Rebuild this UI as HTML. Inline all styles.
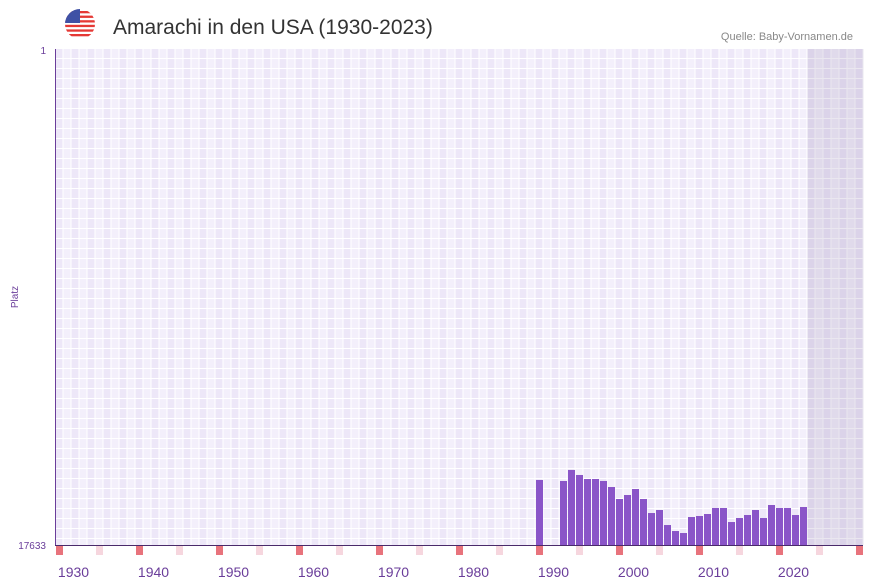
<!DOCTYPE html>
<html><head><meta charset="utf-8"><style>
body{margin:0;width:873px;height:587px;background:#fff;font-family:"Liberation Sans",sans-serif;overflow:hidden;position:relative}
</style></head><body>
<svg width="873" height="587" style="position:absolute;left:0;top:0">
<defs>
<clipPath id="fc"><circle cx="80" cy="24" r="15"/></clipPath>
<pattern id="grid" x="55.5" y="49" width="16" height="10" patternUnits="userSpaceOnUse">
<rect width="16" height="10" fill="#fff"/>
<rect x="0" y="0" width="7" height="9" fill="#ede7f8"/>
<rect x="8" y="0" width="7" height="9" fill="#f3effb"/>
</pattern>
</defs>
<g clip-path="url(#fc)">
<rect x="65" y="9" width="30" height="30" fill="#fff"/>
<rect x="65" y="11" width="30" height="2.3" fill="#e53935"/>
<rect x="65" y="15.6" width="30" height="2.3" fill="#e53935"/>
<rect x="65" y="20.2" width="30" height="2.3" fill="#e53935"/>
<rect x="65" y="24.8" width="30" height="2.3" fill="#e53935"/>
<rect x="65" y="29.4" width="30" height="2.3" fill="#e53935"/>
<rect x="65" y="34" width="30" height="2.3" fill="#e53935"/>
<rect x="65" y="9" width="15" height="14" fill="#3f51a5"/>
</g>
<text x="113" y="34" font-size="21" fill="#333">Amarachi in den USA (1930-2023)</text>
<text x="853" y="40" font-size="11" fill="#888" text-anchor="end">Quelle: Baby-Vornamen.de</text>
<rect x="55.5" y="49" width="808" height="496" fill="url(#grid)"/>
<rect x="807.5" y="49" width="56" height="496" fill="#8a7aa8" opacity="0.18"/>
<g id="bars"></g>
<g id="marks"></g>
<g id="xt"></g>
<line x1="55.5" y1="49" x2="55.5" y2="545" stroke="#6a3d9a" stroke-width="1"/>
<line x1="55" y1="545.5" x2="863" y2="545.5" stroke="#4a2a6a" stroke-width="1"/>
<text x="46" y="54" font-size="10" fill="#6a3d9a" text-anchor="end">1</text>
<text x="46" y="549" font-size="10" fill="#6a3d9a" text-anchor="end">17633</text>
<text x="18" y="297" font-size="10" fill="#6a3d9a" text-anchor="middle" transform="rotate(-90 18 297)">Platz</text>
</svg>
<script>
const years=[1988,1991,1992,1993,1994,1995,1996,1997,1998,1999,2000,2001,2002,2003,2004,2005,2006,2007,2008,2009,2010,2011,2012,2013,2014,2015,2016,2017,2018,2019,2020,2021];
const ranks=[15322,15357,14966,15144,15287,15287,15357,15571,15998,15856,15642,15998,16496,16389,16923,17136,17207,16638,16602,16531,16318,16318,16816,16674,16567,16389,16674,16211,16318,16318,16567,16282];
const xTicks=[1930,1940,1950,1960,1970,1980,1990,2000,2010,2020];
const minRank=1,maxRank=17633,startYear=1928,endYear=2028;
const NS='http://www.w3.org/2000/svg';
function xBand(y){return 55.5+(y-startYear)*8;}
function yScale(r){return 49+(r-minRank)/(maxRank-minRank)*496;}
const bars=document.getElementById('bars');
years.forEach((y,i)=>{const r=document.createElementNS(NS,'rect');


const t=yScale(ranks[i]);r.setAttribute('x',xBand(y)+0.5);r.setAttribute('y',t);r.setAttribute('width',7);r.setAttribute('height',545-t);r.setAttribute('fill','#8a55c8');bars.appendChild(r);});
const marks=document.getElementById('marks');
for(let y=startYear;y<=endYear;y+=5){const r=document.createElementNS(NS,'rect');


const red=(y-startYear)%10===0;r.setAttribute('x',xBand(y)+0.5);r.setAttribute('y',546);r.setAttribute('width',7);r.setAttribute('height',9);r.setAttribute('fill',red?'#e8737c':'#f6d6de');marks.appendChild(r);}
const xt=document.getElementById('xt');
xTicks.forEach(y=>{const t=document.createElementNS(NS,'text');


t.setAttribute('x',xBand(y)+4-2);t.setAttribute('y',577);t.setAttribute('font-size','14');t.setAttribute('fill','#6a3d9a');t.setAttribute('text-anchor','middle');t.textContent=y;xt.appendChild(t);});
</script>
</body></html>
